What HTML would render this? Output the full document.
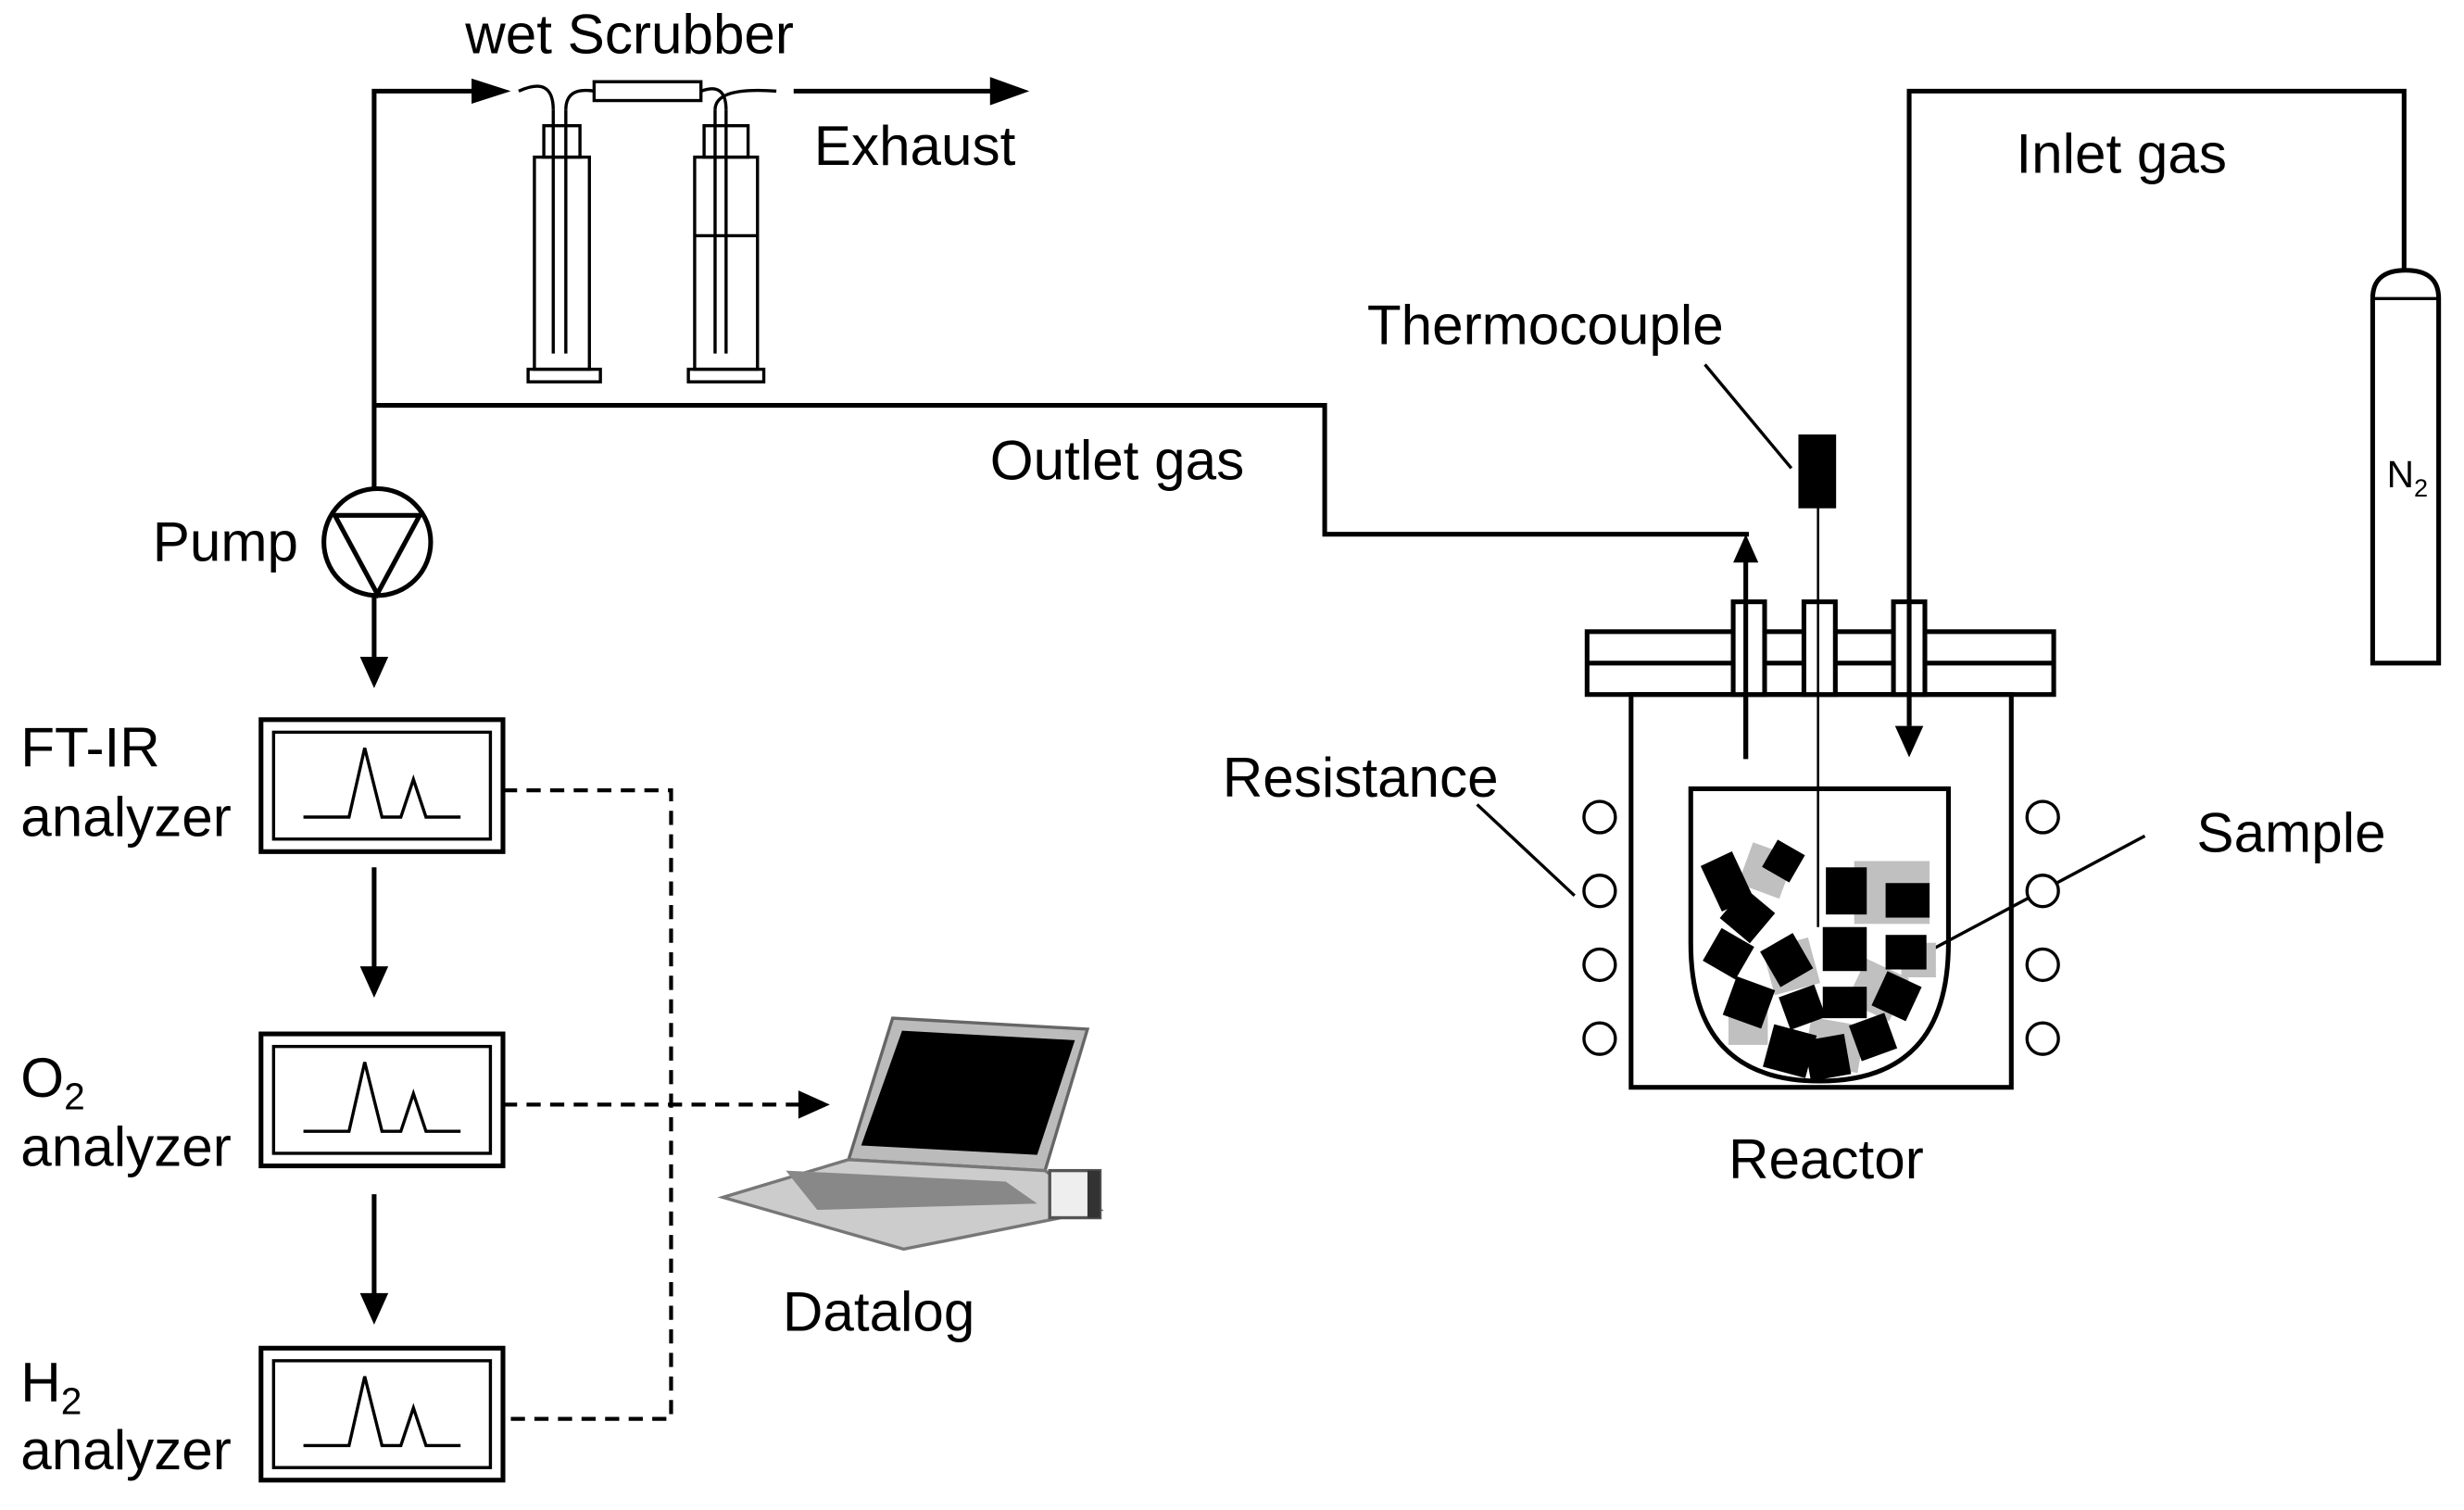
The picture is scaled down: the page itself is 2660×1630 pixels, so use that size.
<!DOCTYPE html>
<html><head><meta charset="utf-8"><style>html,body{margin:0;padding:0;background:#fff}svg{display:block}</style></head>
<body>
<svg width="2660" height="1630" viewBox="0 0 1568 961" xmlns="http://www.w3.org/2000/svg" font-family="Liberation Sans, sans-serif" font-size="35.5" fill="#000">
<rect width="1568" height="961" fill="#fff"/>
<g stroke="#000" stroke-width="3" fill="none">
<polyline points="238,310 238,58 310,58" />
<path d="M300,50 L325,58 L300,66 z" fill="#000" stroke="none"/>
<line x1="505" y1="58" x2="635" y2="58"/>
<path d="M630,49 L655,58 L630,67 z" fill="#000" stroke="none"/>
<polyline points="238,258 843,258 843,340 1113,340"/>
<line x1="1111" y1="483" x2="1111" y2="355"/>
<path d="M1103,358 L1111,340 L1119,358 z" fill="#000" stroke="none"/>
<polyline points="1215,462 1215,58 1530,58 1530,172"/>
<path d="M1206,462 L1215,482 L1224,462 z" fill="#000" stroke="none"/>
<circle cx="240" cy="345" r="34"/>
<path d="M213,328 L267,328 L240,378 z"/>
<line x1="238" y1="380" x2="238" y2="420"/>
<path d="M229,418 L238,438 L247,418 z" fill="#000" stroke="none"/>
<line x1="238" y1="552" x2="238" y2="618"/>
<path d="M229,615 L238,635 L247,615 z" fill="#000" stroke="none"/>
<line x1="238" y1="760" x2="238" y2="825"/>
<path d="M229,823 L238,843 L247,823 z" fill="#000" stroke="none"/>
<g>
<rect x="166" y="458" width="154" height="84"/><rect x="174" y="466" width="138" height="68" stroke-width="2"/>
<polyline stroke-width="2" points="193,520 222,520 232,476 243,520 255,520 263,496 271,520 293,520"/>
<rect x="166" y="658" width="154" height="84"/><rect x="174" y="666" width="138" height="68" stroke-width="2"/>
<polyline stroke-width="2" points="193,720 222,720 232,676 243,720 255,720 263,696 271,720 293,720"/>
<rect x="166" y="858" width="154" height="84"/><rect x="174" y="866" width="138" height="68" stroke-width="2"/>
<polyline stroke-width="2" points="193,920 222,920 232,876 243,920 255,920 263,896 271,920 293,920"/>
</g>
<polyline stroke-dasharray="9,6" stroke-width="2.5" points="320,503 427,503 427,903 320,903"/>
<line stroke-dasharray="9,6" stroke-width="2.5" x1="320" y1="703" x2="510" y2="703"/>
<path d="M508,694 L528,703 L508,712 z" fill="#000" stroke="none"/>
<g stroke-width="2">
<rect x="340" y="100" width="35" height="135"/><rect x="346" y="80" width="23" height="20"/>
<rect x="336" y="235" width="46" height="8"/>
<line x1="352" y1="70" x2="352" y2="225"/><line x1="360" y1="70" x2="360" y2="225"/>
<rect x="442" y="100" width="40" height="135"/><rect x="448" y="80" width="28" height="20"/>
<rect x="438" y="235" width="48" height="8"/>
<line x1="455" y1="70" x2="455" y2="225"/><line x1="462" y1="70" x2="462" y2="225"/>
<line x1="442" y1="150" x2="482" y2="150"/>
<rect x="378" y="52" width="68" height="12"/>
<path d="M330,58 Q352,48 352,70 M360,70 Q360,55 378,58 M446,58 Q462,52 462,70 M455,70 Q455,55 494,58"/>
</g>
<rect x="1010" y="402" width="297" height="40"/>
<line x1="1010" y1="422" x2="1307" y2="422"/>
<rect x="1038" y="442" width="242" height="250"/>
<path d="M1076,502 L1240,502 L1240,600 Q1240,688 1158,688 Q1076,688 1076,600 z"/>
<rect x="1103" y="383" width="20" height="59" fill="#fff"/>
<rect x="1148" y="383" width="20" height="59" fill="#fff"/>
<rect x="1205" y="383" width="20" height="59" fill="#fff"/>
<line x1="1111" y1="383" x2="1111" y2="483"/>
<line x1="1215" y1="383" x2="1215" y2="462"/>
<line x1="1157" y1="322" x2="1157" y2="590" stroke-width="1.5"/>
<rect x="1146" y="278" width="21" height="44" fill="#000"/>
<line x1="1085" y1="232" x2="1140" y2="298" stroke-width="2"/>
<line x1="940" y1="512" x2="1002" y2="570" stroke-width="2"/>
<line x1="1365" y1="532" x2="1215" y2="612" stroke-width="2"/>
<g stroke-width="2" fill="#fff">
<circle cx="1018" cy="520" r="10"/><circle cx="1018" cy="567" r="10"/><circle cx="1018" cy="614" r="10"/><circle cx="1018" cy="661" r="10"/>
<circle cx="1300" cy="520" r="10"/><circle cx="1300" cy="567" r="10"/><circle cx="1300" cy="614" r="10"/><circle cx="1300" cy="661" r="10"/>
</g>
<path d="M1510,422 L1510,190 Q1510,172 1531,172 Q1552,172 1552,190 L1552,422 z"/>
<line x1="1510" y1="190" x2="1552" y2="190" stroke-width="2"/>
</g>
<g stroke="none">
<g fill="#c0c0c0">
<rect x="1110" y="540" width="28" height="28" transform="rotate(20 1124 554)"/>
<rect x="1180" y="548" width="48" height="40"/>
<rect x="1125" y="600" width="30" height="30" transform="rotate(-15 1140 615)"/>
<rect x="1180" y="615" width="30" height="30" transform="rotate(25 1195 630)"/>
<rect x="1100" y="640" width="25" height="25"/>
<rect x="1150" y="650" width="35" height="30" transform="rotate(10 1167 665)"/>
<rect x="1210" y="600" width="22" height="22"/>
</g>
<g fill="#000">
<rect x="1088" y="545" width="22" height="32" transform="rotate(-25 1099 561)"/>
<rect x="1125" y="538" width="20" height="20" transform="rotate(30 1135 548)"/>
<rect x="1100" y="570" width="25" height="25" transform="rotate(40 1112 582)"/>
<rect x="1162" y="552" width="26" height="30"/>
<rect x="1200" y="562" width="28" height="22"/>
<rect x="1088" y="595" width="24" height="24" transform="rotate(30 1100 607)"/>
<rect x="1125" y="598" width="24" height="26" transform="rotate(-30 1137 611)"/>
<rect x="1160" y="590" width="28" height="28"/>
<rect x="1200" y="595" width="26" height="22"/>
<rect x="1100" y="625" width="26" height="26" transform="rotate(20 1113 638)"/>
<rect x="1135" y="630" width="24" height="22" transform="rotate(-20 1147 641)"/>
<rect x="1160" y="628" width="28" height="20"/>
<rect x="1195" y="622" width="24" height="24" transform="rotate(25 1207 634)"/>
<rect x="1180" y="648" width="24" height="24" transform="rotate(-20 1192 660)"/>
<rect x="1125" y="655" width="28" height="28" transform="rotate(15 1139 669)"/>
<rect x="1150" y="660" width="26" height="26" transform="rotate(-10 1163 673)"/>
</g>
</g>
<g>
<path d="M568,648 L692,655 L665,745 L540,738 z" fill="#bbb" stroke="#666" stroke-width="2"/>
<path d="M574,656 L684,662 L660,735 L548,729 z" fill="#000"/>
<path d="M540,738 L665,745 L700,770 L575,795 L460,762 z" fill="#ccc" stroke="#777" stroke-width="2"/>
<path d="M500,745 L640,752 L660,766 L520,770 z" fill="#888"/>
<rect x="668" y="745" width="32" height="30" fill="#eee" stroke="#555" stroke-width="2"/>
<rect x="692" y="745" width="8" height="30" fill="#333"/>
</g>
<text x="296" y="34">wet Scrubber</text>
<text x="518" y="105">Exhaust</text>
<text x="1283" y="110">Inlet gas</text>
<text x="870" y="219">Thermocouple</text>
<text x="630" y="305">Outlet gas</text>
<text x="97" y="357">Pump</text>
<text x="778" y="507">Resistance</text>
<text x="1398" y="542">Sample</text>
<text x="1100" y="750">Reactor</text>
<text x="498" y="847">Datalog</text>
<text x="13" y="488">FT-IR</text>
<text x="13" y="532">analyzer</text>
<text x="13" y="698">O<tspan font-size="24" dy="8">2</tspan></text>
<text x="13" y="742">analyzer</text>
<text x="13" y="892">H<tspan font-size="24" dy="8">2</tspan></text>
<text x="13" y="935">analyzer</text>
<text x="1519" y="310" font-size="24">N<tspan font-size="16" dy="6">2</tspan></text>
</svg>
</body></html>
